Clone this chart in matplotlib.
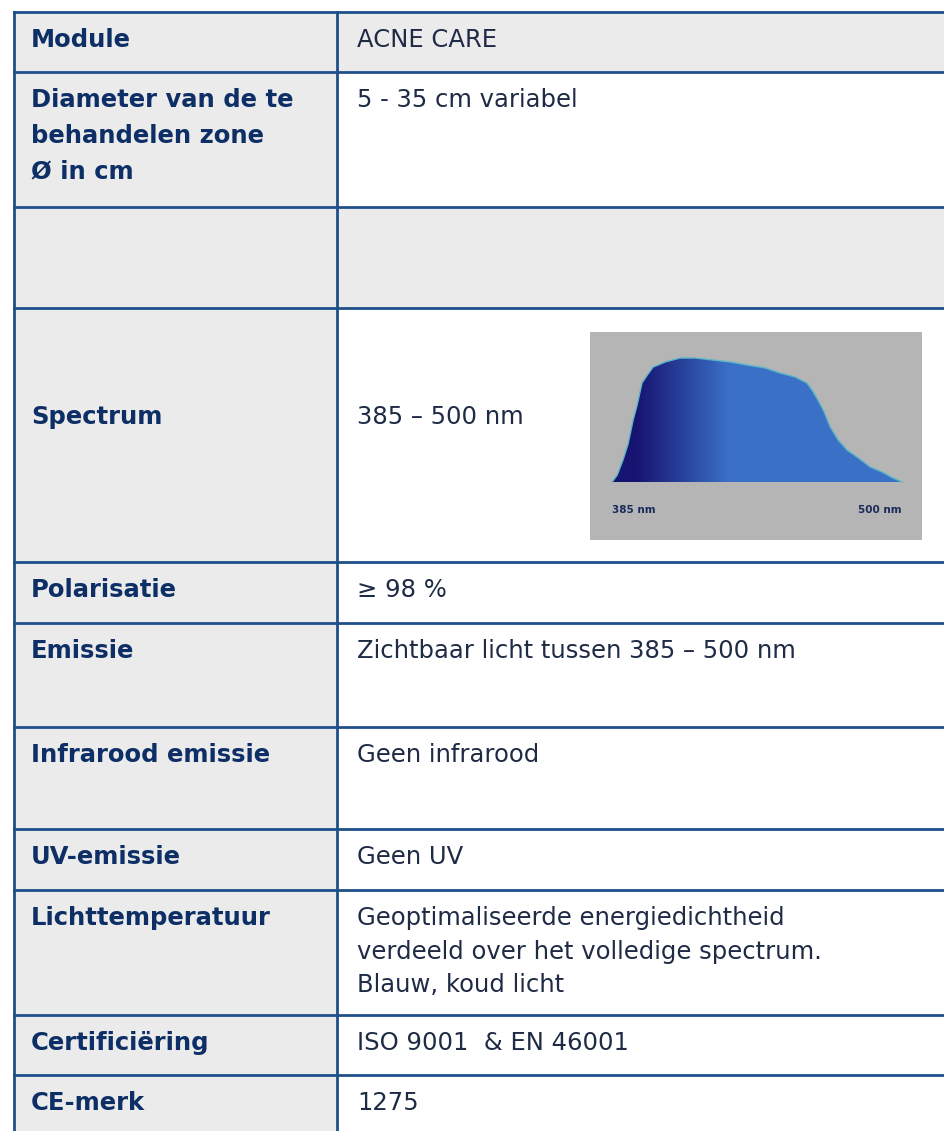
import matplotlib.pyplot as plt
from matplotlib.patches import Rectangle
import numpy as np

# table content ###############################################################
labels = ["Module", "Diameter van de te\nbehandelen zone\nØ in cm", "", "Spectrum",
          "Polarisatie", "Emissie", "Infrarood emissie", "UV-emissie",
          "Lichttemperatuur", "Certificiëring", "CE-merk"]
values = ["ACNE CARE", "5 - 35 cm variabel", "", "385 – 500 nm", "≥ 98 %",
          "Zichtbaar licht tussen 385 – 500 nm", "Geen infrarood", "Geen UV",
          "Geoptimaliseerde energiedichtheid\nverdeeld over het volledige spectrum.\nBlauw, koud licht",
          "ISO 9001  & EN 46001", "1275"]

# spectrum of the lamp (relative intensity)
wavelength = [375, 377.3, 379.9, 382.2, 384.5, 386.3, 388.5, 390.8, 393.5, 399,
              405.7, 412.6, 420.6, 428.3, 435.9, 444.1, 450.9, 457.7, 463, 465.4,
              468, 470.8, 473.5, 477.1, 481.1, 486.2, 491.6, 497, 501.9, 506]
intensity = [0, 5.6, 17.7, 30.6, 50, 62, 79.8, 86, 92.7, 96.8,
             100, 100, 98.4, 96.8, 94.4, 92, 87.9, 84.7, 79.8, 74,
             66, 56.5, 44.4, 33.9, 25.8, 19.4, 12.1, 8, 3.2, 0]
spec_labels = ["385 nm", "500 nm"]

# layout (pixels) #############################################################
W, H = 945, 1131
row_edges = [12, 72, 207, 308, 562, 623, 727, 829, 890, 1015, 1075, 1140]
x_left, x_mid = 14, 337
gray_rows = [0, 2]          # rows whose right cell is gray as well
line_col = '#1f4f8a'
gray = '#ebebeb'
label_col = '#0d2f66'
value_col = '#1f2b45'

fig = plt.figure(figsize=(W / 100, H / 100), dpi=100, facecolor='white')
ax = fig.add_axes([0, 0, 1, 1])
ax.set_xlim(0, W)
ax.set_ylim(H, 0)
ax.axis('off')

for i in range(len(labels)):
    top, bot = row_edges[i], row_edges[i + 1]
    ax.add_patch(Rectangle((x_left, top), x_mid - x_left, bot - top, color=gray, lw=0))
    if i in gray_rows:
        ax.add_patch(Rectangle((x_mid, top), W - x_mid, bot - top, color=gray, lw=0))
    # text starts near the top of each row, except the spectrum row
    if labels[i] == "Spectrum":
        y, va = (top + bot) / 2 - 18, 'center'
    else:
        y, va = top + 16, 'top'
    ax.text(31, y, labels[i], fontsize=17.5, fontweight='bold', color=label_col,
            va=va, ha='left', linespacing=1.62)
    ax.text(357, y, values[i], fontsize=17.5, color=value_col,
            va=va, ha='left', linespacing=1.5)

# grid lines
for y in row_edges[:-1]:
    ax.plot([x_left, W], [y, y], color=line_col, lw=2)
ax.plot([x_left, x_left], [row_edges[0], H], color=line_col, lw=2)
ax.plot([x_mid, x_mid], [row_edges[0], H], color=line_col, lw=2)

# spectrum inset ##############################################################
ins = fig.add_axes([590 / W, 1 - 540 / H, 332 / W, 208 / H])
ins.set_facecolor('#b5b5b5')
ins.set_xlim(365, 515)
ins.set_ylim(-46.8, 121)
ins.set_xticks([])
ins.set_yticks([])
for s in ins.spines.values():
    s.set_visible(False)

poly = ins.fill_between(wavelength, 0, intensity, color='none', lw=0)
dark = np.array([0.09, 0.08, 0.44])
blue = np.array([0.23, 0.44, 0.78])
xs = np.linspace(365, 515, 300)
t = np.clip((xs - 386) / (428 - 386), 0, 1)[:, None]
grad = (dark * (1 - t) + blue * t)[None, :, :]
img = ins.imshow(grad, extent=[365, 515, 0, 101], aspect='auto', zorder=2)
img.set_clip_path(poly.get_paths()[0], transform=ins.transData)
ins.plot(wavelength, intensity, color='#5ab6c6', lw=1, zorder=3)

ins.text(wavelength[0], -23, spec_labels[0], fontsize=7.5, fontweight='bold',
         color='#1a2b5a', ha='left', va='center')
ins.text(wavelength[-1], -23, spec_labels[1], fontsize=7.5, fontweight='bold',
         color='#1a2b5a', ha='right', va='center')

fig.savefig('out.png', dpi=100, facecolor='white')
